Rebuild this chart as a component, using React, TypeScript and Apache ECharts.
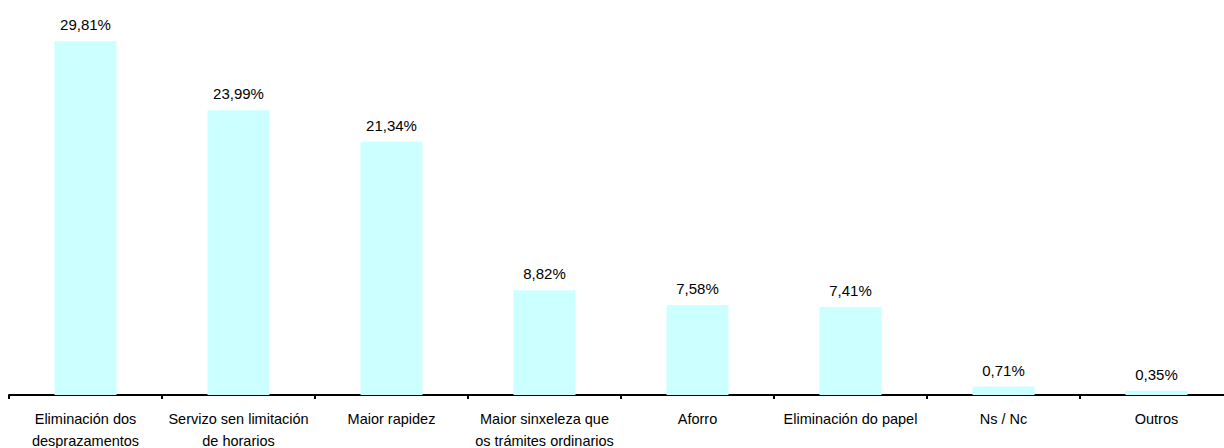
import React, { useEffect, useRef } from "react";
import * as echarts from "echarts";

const categories = [
  "Eliminación dos\ndesprazamentos",
  "Servizo sen limitación\nde horarios",
  "Maior rapidez",
  "Maior sinxeleza que\nos trámites ordinarios",
  "Aforro",
  "Eliminación do papel",
  "Ns / Nc",
  "Outros",
];
const values = [29.81, 23.99, 21.34, 8.82, 7.58, 7.41, 0.71, 0.35];

const FONT = "'Liberation Sans', Arial, sans-serif";

export default function App() {
  const ref = useRef<HTMLDivElement>(null);
  useEffect(() => {
    if (!ref.current) return;
    const chart = echarts.init(ref.current, null, { renderer: "svg" });
    chart.setOption({
      animation: false,
      grid: {
        left: 9,
        width: 1224,
        top: 39,
        bottom: 53,
        containLabel: false,
        outerBoundsMode: "none",
      },
      xAxis: {
        type: "category",
        data: categories,
        axisLine: { lineStyle: { color: "#000", width: 2 } },
        axisTick: { show: true, length: 4, lineStyle: { color: "#000", width: 2 } },
        axisLabel: {
          interval: 0,
          color: "#000",
          fontFamily: FONT,
          fontSize: 14.5,
          lineHeight: 22,
          margin: 13,
        },
      },
      yAxis: {
        type: "value",
        min: 0,
        max: 30,
        show: false,
        splitLine: { show: false },
      },
      series: [
        {
          type: "bar",
          data: values,
          barWidth: 62,
          itemStyle: { color: "#CCFFFF" },
          label: {
            show: true,
            position: "top",
            distance: 9,
            color: "#000",
            fontFamily: FONT,
            fontSize: 15,
            formatter: (p: any) => p.value.toFixed(2).replace(".", ",") + "%",
          },
        },
      ],
    });
    return () => chart.dispose();
  }, []);
  return (
    <div
      style={{
        position: "absolute",
        left: 0,
        top: 0,
        width: 1224,
        height: 448,
        overflow: "hidden",
        background: "#fff",
      }}
    >
      <div ref={ref} style={{ width: 1240, height: 448 }} />
    </div>
  );
}
